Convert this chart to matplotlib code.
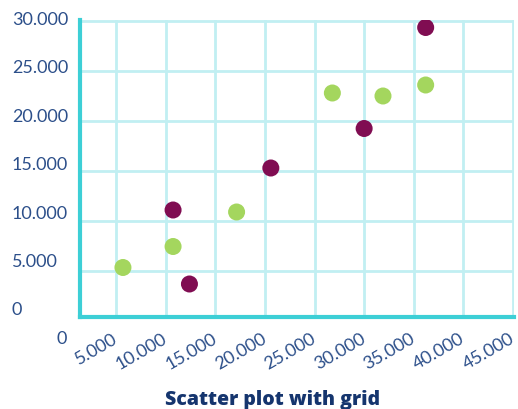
import matplotlib
matplotlib.use("Agg")
import matplotlib.pyplot as plt
from matplotlib.transforms import blended_transform_factory, ScaledTranslation

# Data
series_a_x = [36200, 30000, 20600, 10750, 12400]   # purple
series_a_y = [29350, 19250, 15300, 11100, 3700]
series_b_x = [26800, 31900, 36200, 17150, 10750, 5700]   # green
series_b_y = [22800, 22500, 23600, 10900, 7450, 5350]
x_ticks = [0, 5000, 10000, 15000, 20000, 25000, 30000, 35000, 40000, 45000]
x_labels = ["0", "5.000", "10.000", "15.000", "20.000", "25.000", "30.000", "35.000", "40.000", "45.000"]
y_ticks = [30000, 25000, 20000, 15000, 10000, 5000, 0]
y_labels = ["30.000", "25.000", "20.000", "15.000", "10.000", "5.000", "0"]
title = "Scatter plot with grid"

plt.rcParams['font.family'] = ['Lato', 'DejaVu Sans']

W, H = 518, 410
fig = plt.figure(figsize=(W / 100, H / 100), dpi=100)
ax = fig.add_axes([80 / W, (H - 318) / H, (514 - 80) / W, (318 - 21) / H])

ax.set_xlim(1373, 45100)
ax.set_ylim(400, 30100)

grid_c = "#c1eff2"
spine_c = "#3dcfd6"
label_c = "#2c4f8a"

ax.set_xticks(x_ticks[1:])
ax.set_yticks(y_ticks[:-1])
ax.tick_params(length=0, labelbottom=False, labelleft=False)
ax.grid(True, color=grid_c, linewidth=2, zorder=0)
ax.set_axisbelow(True)
for s in ["top", "right"]:
    ax.spines[s].set_visible(False)
for s in ["left", "bottom"]:
    ax.spines[s].set_color(spine_c)
    ax.spines[s].set_linewidth(3)
    ax.spines[s].set_zorder(3)

ax.scatter(series_b_x, series_b_y, s=150, color="#a4d65e", edgecolors="none", zorder=4)
ax.scatter(series_a_x, series_a_y, s=150, color="#800d52", edgecolors="none", zorder=4)

# y labels
ty = blended_transform_factory(fig.transFigure, ax.transData)
for k, (v, lab) in enumerate(zip(y_ticks, y_labels)):
    off = ScaledTranslation(0, (2 + 1.6 * k) / 100, fig.dpi_scale_trans)
    ax.text(12 / W, v, lab, transform=ty + off, ha="left", va="center",
            fontsize=13, color=label_c, clip_on=False)

# x labels
tx = blended_transform_factory(ax.transData, fig.transFigure)
for v, lab in zip(x_ticks, x_labels):
    rot = 0 if v == 0 else 30
    dx = 1 if v == 0 else -4
    off = ScaledTranslation(dx / 100, 0, fig.dpi_scale_trans)
    ax.text(v, (H - 331) / H, lab, transform=tx + off, ha="right", va="top",
            rotation=rot, rotation_mode="anchor", fontsize=13, color=label_c,
            clip_on=False)

fig.text(273 / W, (H - 400) / H, title, ha="center", va="center",
         fontsize=14, fontweight=800, color="#15356e",
         family=["Open Sans", "DejaVu Sans"])

fig.savefig("out.png", dpi=100)
